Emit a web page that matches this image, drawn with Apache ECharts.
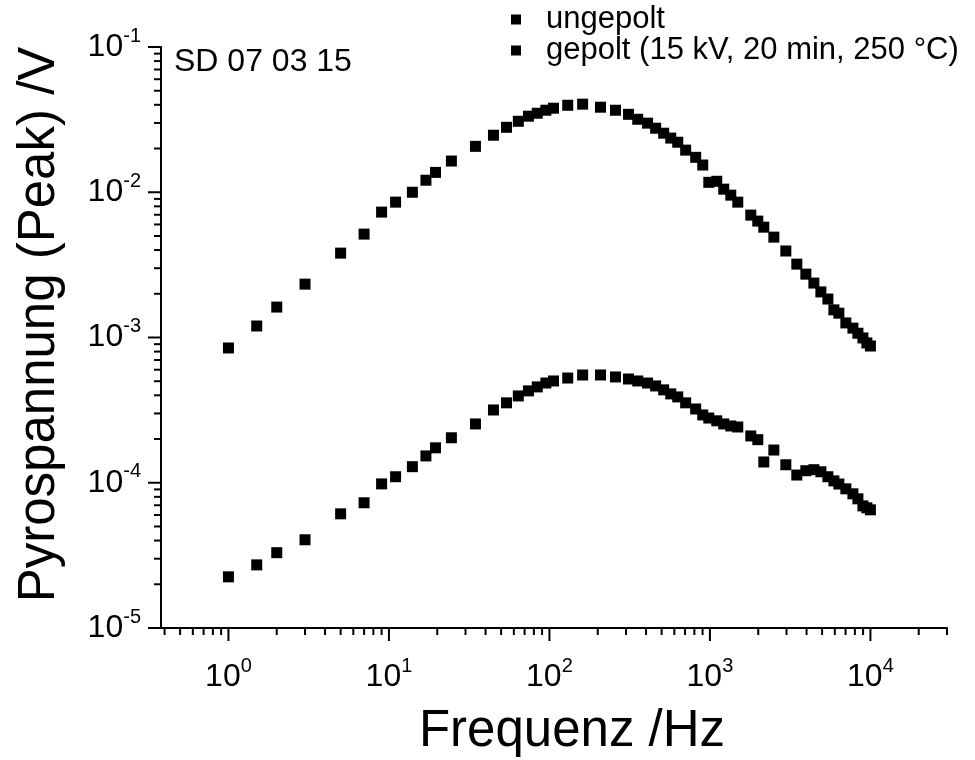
<!DOCTYPE html>
<html>
<head>
<meta charset="utf-8">
<script src="https://cdn.jsdelivr.net/npm/echarts@6/dist/echarts.min.js"></script>
<style>
html,body{margin:0;padding:0;background:#fff;}
#chart{width:975px;height:760px;}
</style>
</head>
<body>
<div id="chart"></div>
<script>
// ---- data ----
var freq = [1,1.5,2,3,5,7,9,11,14,17,19.5,24.5,34.6,44.8,54,64,74,84,95,106,130,161,208,258,311,355,409,459,515,570,630,706,815,902,984,1103,1219,1349,1491,1797,1987,2166,2502,2971,3478,3960,4443,4912,5432,5922,6359,7030,7780,8356,8978,9500,10000];
var gepolt = [8.47e-4,1.20e-3,1.62e-3,2.33e-3,3.81e-3,5.15e-3,7.30e-3,8.55e-3,1.00e-2,1.21e-2,1.37e-2,1.64e-2,2.07e-2,2.47e-2,2.80e-2,3.08e-2,3.34e-2,3.50e-2,3.67e-2,3.79e-2,3.97e-2,4.04e-2,3.85e-2,3.67e-2,3.44e-2,3.18e-2,2.99e-2,2.76e-2,2.55e-2,2.36e-2,2.21e-2,1.95e-2,1.74e-2,1.54e-2,1.17e-2,1.19e-2,1.05e-2,9.55e-3,8.55e-3,6.96e-3,6.33e-3,5.75e-3,4.91e-3,3.94e-3,3.20e-3,2.73e-3,2.37e-3,2.06e-3,1.84e-3,1.55e-3,1.47e-3,1.26e-3,1.16e-3,1.07e-3,9.93e-4,9.17e-4,8.74e-4];
var ungepolt = [2.25e-5,2.72e-5,3.30e-5,4.05e-5,6.11e-5,7.28e-5,9.82e-5,1.10e-4,1.29e-4,1.53e-4,1.74e-4,2.04e-4,2.54e-4,3.17e-4,3.55e-4,3.96e-4,4.29e-4,4.57e-4,4.86e-4,5.02e-4,5.26e-4,5.52e-4,5.52e-4,5.35e-4,5.18e-4,5.02e-4,4.86e-4,4.64e-4,4.36e-4,4.09e-4,3.90e-4,3.55e-4,3.22e-4,2.93e-4,2.79e-4,2.67e-4,2.54e-4,2.46e-4,2.42e-4,2.10e-4,1.98e-4,1.39e-4,1.68e-4,1.33e-4,1.13e-4,1.21e-4,1.23e-4,1.19e-4,1.10e-4,1.03e-4,9.8e-5,9.08e-5,8.39e-5,7.75e-5,6.93e-5,6.72e-5,6.51e-5];
var seriesNames = ['ungepolt', 'gepolt (15 kV, 20 min, 250 \u00B0C)'];
var sampleLabel = 'SD 07 03 15';
var xName = 'Frequenz /Hz';
var yName = 'Pyrospannung (Peak) /V';
var xRange = [0.38, 30000];
var yRange = [1e-5, 1e-1];
var xMajorTicks = [1,10,100,1000,10000];
var xMinorTicks = [0.4,0.5,0.6,0.7,0.8,0.9,2,3,4,5,6,7,8,9,20,30,40,50,60,70,80,90,200,300,400,500,600,700,800,900,2000,3000,4000,5000,6000,7000,8000,9000,20000,30000];
var yMajorTicks = [1e-5,1e-4,1e-3,1e-2,1e-1];
var yMinorTicks = [2e-5,3e-5,4e-5,5e-5,6e-5,7e-5,8e-5,9e-5,2e-4,3e-4,4e-4,5e-4,6e-4,7e-4,8e-4,9e-4,2e-3,3e-3,4e-3,5e-3,6e-3,7e-3,8e-3,9e-3,2e-2,3e-2,4e-2,5e-2,6e-2,7e-2,8e-2,9e-2];

// ---- chart ----
var FONT = '"Liberation Sans", Arial, sans-serif';
function pow10Label(v) {
  var e = Math.log10(v);
  var r = Math.round(e);
  if (Math.abs(e - r) > 1e-6) return '';
  return '{b|10}{s|' + r + '}';
}
var richLbl = {
  b: {fontSize: 32, fontFamily: FONT, color: '#000', lineHeight: 42},
  s: {fontSize: 20, fontFamily: FONT, color: '#000', lineHeight: 20, verticalAlign: 'top'}
};
function pairs(xs, ys) { return xs.map(function (x, i) { return [x, ys[i]]; }); }

function tickSeries(name, values, dir, len) {
  return {
    type: 'custom', name: name, silent: true, clip: false, z: 5,
    data: values.map(function (v) { return [v]; }),
    renderItem: function (params, api) {
      var v = api.value(0);
      if (dir === 'x') {
        var p = api.coord([v, yRange[0]]);
        return {type: 'line', shape: {x1: p[0], y1: p[1], x2: p[0], y2: p[1] + len},
          style: {stroke: '#000', lineWidth: 2}};
      } else {
        var q = api.coord([xRange[0], v]);
        return {type: 'line', shape: {x1: q[0], y1: q[1], x2: q[0] - len, y2: q[1]},
          style: {stroke: '#000', lineWidth: 2}};
      }
    }
  };
}

var chart = echarts.init(document.getElementById('chart'), null, {renderer: 'canvas'});
chart.setOption({
  animation: false,
  backgroundColor: '#fff',
  textStyle: {fontFamily: FONT},
  title: {
    text: sampleLabel, left: 174, top: 46, padding: 0,
    textStyle: {fontSize: 32, fontWeight: 'normal', color: '#000', fontFamily: FONT}
  },
  legend: {
    data: seriesNames, orient: 'vertical', left: 511, top: 4, padding: 0,
    itemGap: 0, itemWidth: 10, itemHeight: 10, icon: 'rect',
    textStyle: {fontSize: 31, color: '#000', fontFamily: FONT, lineHeight: 28, padding: [0, 0, 0, 20]}
  },
  grid: {left: 161, right: 28, top: 47, bottom: 132, containLabel: false, outerBoundsMode: 'none'},
  xAxis: {
    type: 'log', logBase: 10, min: xRange[0], max: xRange[1],
    name: xName, nameLocation: 'middle', nameGap: 78,
    nameTextStyle: {fontSize: 51, color: '#000', fontFamily: FONT, padding: [0, 0, 0, 36]},
    axisLine: {show: true, onZero: false, lineStyle: {color: '#000', width: 2}},
    axisTick: {show: false},
    minorTick: {show: false},
    splitLine: {show: false},
    axisLabel: {margin: 28, formatter: pow10Label, rich: richLbl, showMinLabel: true, showMaxLabel: true, hideOverlap: false}
  },
  yAxis: {
    type: 'log', logBase: 10, min: yRange[0], max: yRange[1],
    name: yName, nameLocation: 'middle', nameGap: 96, nameRotate: 90,
    nameTextStyle: {fontSize: 51, color: '#000', fontFamily: FONT, padding: [0, 0, 0, 26]},
    axisLine: {show: true, onZero: false, lineStyle: {color: '#000', width: 2}},
    axisTick: {show: false},
    minorTick: {show: false},
    splitLine: {show: false},
    axisLabel: {margin: 20, formatter: pow10Label, rich: richLbl, hideOverlap: false}
  },
  series: [
    {type: 'scatter', name: seriesNames[0], data: pairs(freq, ungepolt), symbol: 'rect', symbolSize: 11,
      itemStyle: {color: '#000', opacity: 1}, z: 3},
    {type: 'scatter', name: seriesNames[1], data: pairs(freq, gepolt), symbol: 'rect', symbolSize: 11,
      itemStyle: {color: '#000', opacity: 1}, z: 3},
    tickSeries('xMajor', xMajorTicks, 'x', 13),
    tickSeries('xMinor', xMinorTicks, 'x', 7),
    tickSeries('yMajor', yMajorTicks, 'y', 13),
    tickSeries('yMinor', yMinorTicks, 'y', 7)
  ]
});
</script>
</body>
</html>
